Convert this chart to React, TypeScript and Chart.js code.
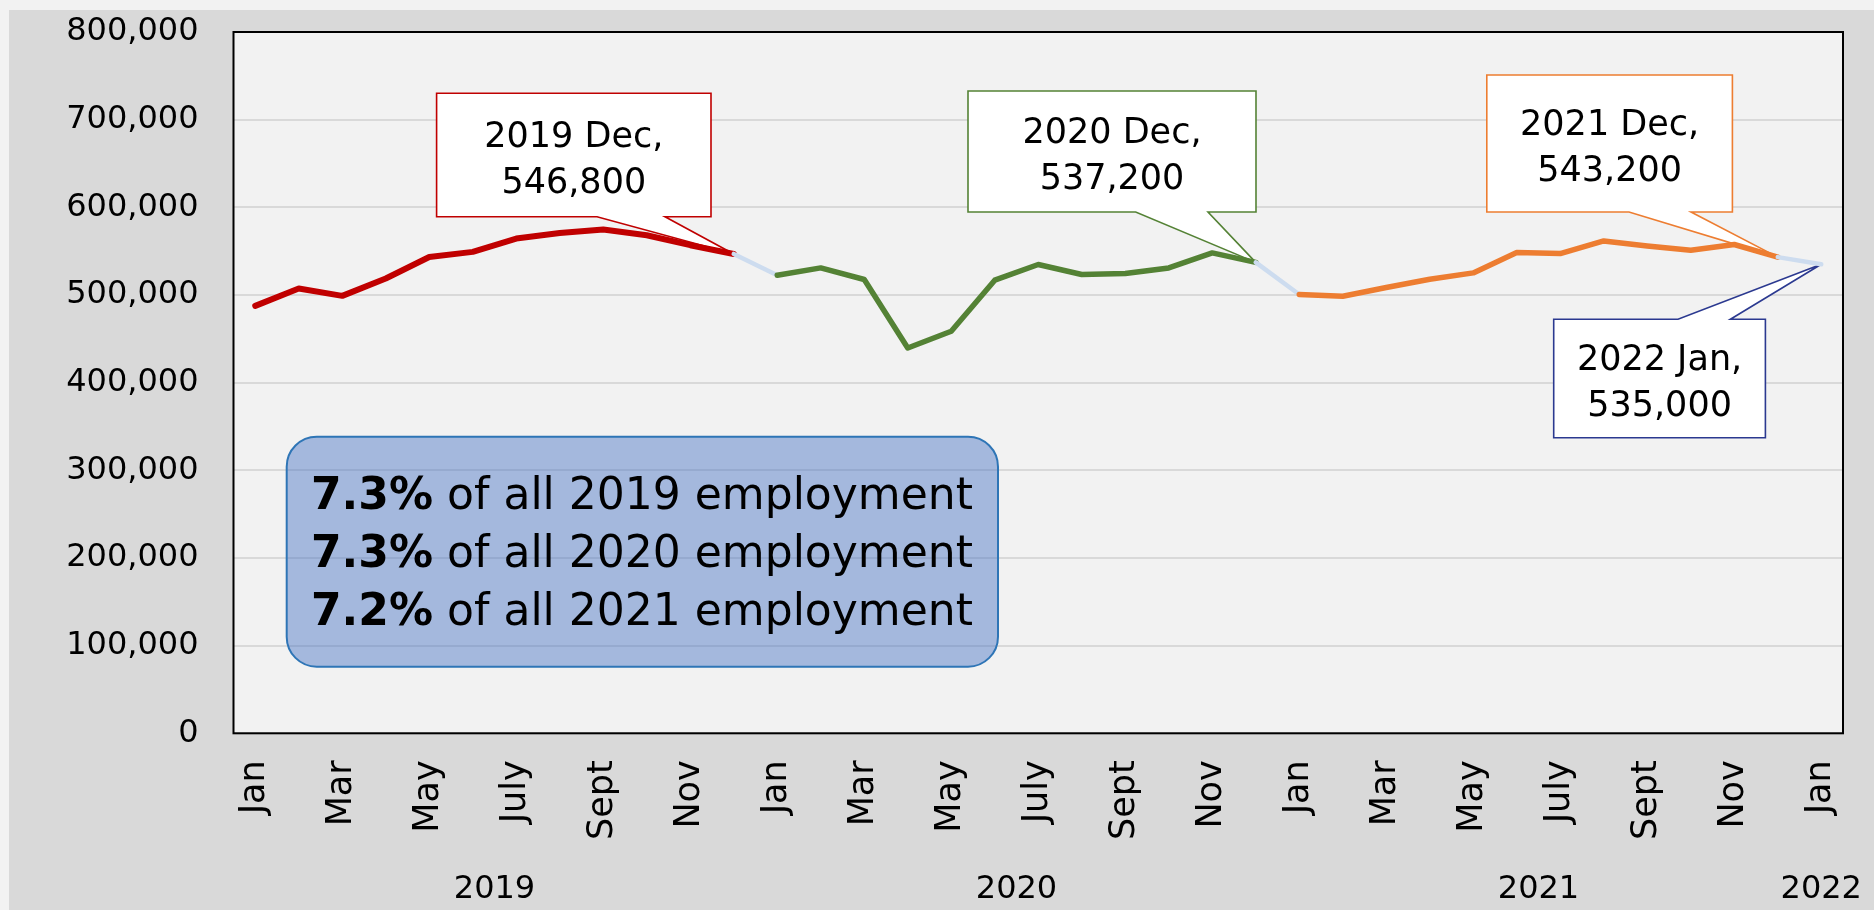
import React, { useEffect, useRef } from 'react';
import { Chart, registerables } from 'chart.js';

Chart.register(...registerables);

// ---------- data ----------
const MONTHS = ['Jan', 'Feb', 'Mar', 'Apr', 'May', 'June', 'July', 'Aug', 'Sept', 'Oct', 'Nov', 'Dec'];
const YEARS = ['2019', '2020', '2021', '2022'];
const values2019 = [487600, 507400, 499000, 518800, 543400, 549200, 564400, 570800, 574700, 568200, 556800, 546800];
const values2020 = [522600, 530900, 517700, 439500, 458700, 516900, 534800, 523400, 524500, 530900, 548000, 537200];
const values2021 = [500600, 498600, 508500, 518000, 525200, 548500, 547300, 561700, 556000, 551000, 557600, 543200];
const values2022 = [535000];
const SHARE_LABELS = ['7.3%', '7.3%', '7.2%'];
const SHARE_YEARS = ['2019', '2020', '2021'];
const Y_MIN = 0;
const Y_MAX = 800000;
const Y_STEP = 100000;

const seriesByYear = [values2019, values2020, values2021, values2022];
const labels: string[] = [];
const yearOfIndex: number[] = [];
const allValues: number[] = [];
seriesByYear.forEach((vals, yi) => {
  vals.forEach((v, mi) => {
    labels.push(MONTHS[mi]);
    yearOfIndex.push(yi);
    allValues.push(v);
  });
});
// centre of each year's group of months, in category-index units
const yearCenters = seriesByYear.map((_, yi) => {
  const idx = yearOfIndex.map((y, i) => (y === yi ? i : -1)).filter((i) => i >= 0);
  return (idx[0] + idx[idx.length - 1]) / 2;
});

// ---------- styles ----------
const FONT = "'DejaVu Sans'";
const YEAR_COLORS = ['#c00000', '#548235', '#ed7d31', '#2b3990'];
const YEAR_WIDTHS = [6, 5.5, 5.5];
const LINK_COLOR = '#cddcef';

const fmt = (v: number) => v.toLocaleString('en-US');
const lastIndexOfYear = (yi: number) => yearOfIndex.lastIndexOf(yi);

// callout layout (pixel boxes), anchor points come from the data + scales
const CALLOUTS = [
  { year: 0, box: [436.6, 93.3, 711, 216.7], base: [597, 665], side: 'bottom' },
  { year: 1, box: [968, 91, 1256, 212], base: [1135.7, 1208], side: 'bottom' },
  { year: 2, box: [1486.8, 75, 1732.4, 212], base: [1629, 1691], side: 'bottom' },
  { year: 3, box: [1553.7, 319.3, 1765.4, 437.7], base: [1678, 1730.4], side: 'top' },
];
const INFO_BOX = { l: 286.7, t: 436.7, r: 998, b: 666.7, radius: 30, textX: 311, baselines: [509.3, 566.7, 625] };

const bgPlugin = {
  id: 'bgPlugin',
  beforeDraw(chart: any) {
    const { ctx, width, height, chartArea: a } = chart;
    ctx.save();
    ctx.fillStyle = '#f2f2f2';
    ctx.fillRect(0, 0, width, height);
    ctx.fillStyle = '#d9d9d9';
    ctx.fillRect(9, 10, width - 9, height - 10);
    ctx.fillStyle = '#f2f2f2';
    ctx.fillRect(a.left, a.top, a.right - a.left, a.bottom - a.top);
    ctx.restore();
  },
};

const annotPlugin = {
  id: 'annotPlugin',
  beforeDatasetsDraw(chart: any) {
    const { ctx, chartArea: a } = chart;
    const xs = chart.scales.x;
    const ys = chart.scales.y;
    ctx.save();
    // plot border
    ctx.strokeStyle = '#000';
    ctx.lineWidth = 2;
    ctx.strokeRect(a.left, a.top, a.right - a.left, a.bottom - a.top);

    // info box
    const ib = INFO_BOX;
    ctx.beginPath();
    ctx.roundRect(ib.l, ib.t, ib.r - ib.l, ib.b - ib.t, ib.radius);
    ctx.fillStyle = 'rgba(68,114,196,0.45)';
    ctx.fill();
    ctx.strokeStyle = '#2e75b6';
    ctx.lineWidth = 2;
    ctx.stroke();
    ctx.fillStyle = '#000';
    ctx.textBaseline = 'alphabetic';
    ctx.textAlign = 'left';
    SHARE_LABELS.forEach((s, i) => {
      ctx.font = `bold 44px ${FONT}`;
      ctx.fillText(s, ib.textX, ib.baselines[i]);
      const w = ctx.measureText(s).width;
      ctx.font = `44px ${FONT}`;
      ctx.fillText(` of all ${SHARE_YEARS[i]} employment`, ib.textX + w, ib.baselines[i]);
    });

    // callouts
    CALLOUTS.forEach((c) => {
      const idx = lastIndexOfYear(c.year);
      const v = allValues[idx];
      const tx = xs.getPixelForValue(idx);
      const ty = ys.getPixelForValue(v);
      const [l, t, r, b] = c.box;
      const [bl, br] = c.base;
      ctx.beginPath();
      if (c.side === 'bottom') {
        ctx.moveTo(l, t);
        ctx.lineTo(r, t);
        ctx.lineTo(r, b);
        ctx.lineTo(br, b);
        ctx.lineTo(tx, ty);
        ctx.lineTo(bl, b);
        ctx.lineTo(l, b);
      } else {
        ctx.moveTo(l, t);
        ctx.lineTo(bl, t);
        ctx.lineTo(tx, ty);
        ctx.lineTo(br, t);
        ctx.lineTo(r, t);
        ctx.lineTo(r, b);
        ctx.lineTo(l, b);
      }
      ctx.closePath();
      ctx.fillStyle = '#ffffff';
      ctx.fill();
      ctx.strokeStyle = YEAR_COLORS[c.year];
      ctx.lineWidth = 1.6;
      ctx.stroke();
      const cx = (l + r) / 2;
      const cy = (t + b) / 2;
      ctx.fillStyle = '#000';
      ctx.font = `35px ${FONT}`;
      ctx.textAlign = 'center';
      ctx.fillText(`${YEARS[c.year]} ${labels[idx]},`, cx, cy - 8.3);
      ctx.fillText(fmt(v), cx, cy + 37.7);
    });
    ctx.restore();
  },
};

export default function App() {
  const ref = useRef<HTMLCanvasElement>(null);
  useEffect(() => {
    document.body.style.margin = '0';
    const canvas = ref.current;
    if (!canvas) return;
    const chart = new Chart(canvas, {
      type: 'line',
      data: {
        labels,
        datasets: [
          {
            data: allValues,
            borderWidth: 5,
            pointRadius: 0,
            pointHoverRadius: 0,
            tension: 0,
            borderJoinStyle: 'round',
            borderCapStyle: 'round',
            borderColor: YEAR_COLORS[0],
            segment: {
              borderColor: (ctx: any) => {
                const y0 = yearOfIndex[ctx.p0DataIndex];
                const y1 = yearOfIndex[ctx.p1DataIndex];
                return y0 !== y1 ? LINK_COLOR : YEAR_COLORS[y0];
              },
              borderWidth: (ctx: any) => {
                const y0 = yearOfIndex[ctx.p0DataIndex];
                const y1 = yearOfIndex[ctx.p1DataIndex];
                return y0 !== y1 ? 4.5 : YEAR_WIDTHS[y0];
              },
            },
          },
        ],
      },
      options: {
        animation: false,
        responsive: false,
        events: [],
        layout: { padding: { top: 32, right: 31, left: 0, bottom: 0 } },
        plugins: { legend: { display: false }, tooltip: { enabled: false } },
        scales: {
          y: {
            min: Y_MIN,
            max: Y_MAX,
            afterFit: (s: any) => { s.width = 233.5; },
            ticks: {
              stepSize: Y_STEP,
              color: '#000',
              padding: 0,
              font: { family: FONT, size: 32 },
              callback: (v: any) => fmt(Number(v)),
            },
            grid: { color: '#d9d9d9', lineWidth: 2, drawTicks: true, tickLength: 35, tickColor: 'rgba(0,0,0,0)' },
            border: { display: false },
          },
          x: {
            type: 'category',
            offset: true,
            weight: 0,
            afterFit: (s: any) => { s.height = 137; },
            grid: { display: true, drawOnChartArea: false, color: 'rgba(0,0,0,0)', drawTicks: true, tickLength: 27, tickColor: 'rgba(0,0,0,0)' },
            border: { display: false },
            ticks: {
              autoSkip: false,
              maxRotation: 90,
              minRotation: 90,
              padding: 0,
              color: '#000',
              font: { family: FONT, size: 35 },
              callback: (_v: any, i: number) => (i % 2 === 0 ? labels[i] : ''),
            },
          },
          x2: {
            type: 'linear',
            position: 'bottom',
            weight: 1,
            min: -0.5,
            max: labels.length - 0.5,
            afterFit: (s: any) => { s.height = 39.7; },
            afterBuildTicks: (s: any) => { s.ticks = yearCenters.map((v) => ({ value: v })); },
            grid: { display: false, drawTicks: false },
            border: { display: false },
            ticks: {
              autoSkip: false,
              maxRotation: 0,
              minRotation: 0,
              padding: 0,
              color: '#000',
              font: { family: FONT, size: 32 },
              callback: (v: any) => {
                const k = yearCenters.findIndex((c) => Math.abs(c - Number(v)) < 1e-6);
                return k >= 0 ? YEARS[k] : '';
              },
            },
          },
        },
      },
      plugins: [bgPlugin, annotPlugin],
    } as any);
    return () => chart.destroy();
  }, []);
  return (
    <div style={{ width: 1874, height: 910 }}>
      <canvas ref={ref} width={1874} height={910} style={{ display: 'block', width: 1874, height: 910 }} />
    </div>
  );
}
